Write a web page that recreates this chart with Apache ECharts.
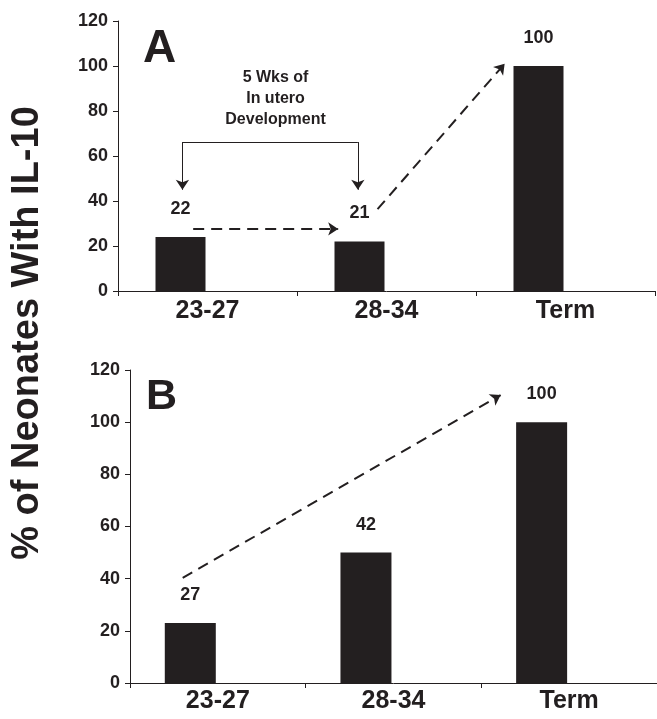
<!DOCTYPE html>
<html>
<head>
<meta charset="utf-8">
<script src="https://cdn.jsdelivr.net/npm/echarts@6/dist/echarts.min.js"></script>
<style>
  html, body { margin: 0; padding: 0; background: #fff; }
  #chart { width: 657px; height: 719px; }
</style>
</head>
<body>
<div id="chart"></div>
<script>
// data
var categories = ['23-27', '28-34', 'Term'];
var barsA = [24, 22, 100];
var labelsA = ['22', '21', '100'];
var barsB = [23, 50, 100];
var labelsB = ['27', '42', '100'];

// annotation arrows, in data space (x: category index, y: percent)
var dashedA = [[[-0.08, 27.6], [0.73, 27.6]], [[0.95, 36.4], [1.66, 101]]];
var bracketA = [[-0.14, 45], [-0.14, 66.2], [0.84, 66.2], [0.84, 45]];
var noteA = { x: 0.38, y: 85.3, text: '5 Wks of\nIn utero\nDevelopment' };
var dashedB = [[[-0.2, 40.3], [1.61, 110.4]]];

var ink = '#231f20';
var font = 'Liberation Sans, Arial, sans-serif';

var myChart = echarts.init(document.getElementById('chart'));

function catAxis(grid, margin) {
    return {
        type: 'category',
        gridIndex: grid,
        data: categories,
        axisLine: { onZero: false, lineStyle: { color: ink, width: 1 } },
        axisTick: { show: true, length: 5, lineStyle: { color: ink } },
        axisLabel: { color: ink, fontSize: 25, fontWeight: 'bold', fontFamily: font, margin: margin }
    };
}

function valAxis(grid) {
    return {
        type: 'value',
        gridIndex: grid,
        min: 0, max: 120, interval: 20,
        axisLine: { show: true, onZero: false, lineStyle: { color: ink, width: 1 } },
        axisTick: { show: true, length: 5, lineStyle: { color: ink } },
        splitLine: { show: false },
        axisLabel: { color: ink, fontSize: 18, fontWeight: 'bold', fontFamily: font, margin: 10 }
    };
}

function overlayAxis(grid) {
    return { type: 'value', gridIndex: grid, min: -0.5, max: 2.5, show: false };
}

function barSeries(grid, values, labels, width) {
    return {
        type: 'bar',
        xAxisIndex: grid, yAxisIndex: grid,
        data: values,
        barWidth: width,
        barGap: '8%',
        itemStyle: { color: ink },
        silent: true,
        label: {
            show: true, position: 'top', distance: 19,
            color: ink, fontSize: 18, fontWeight: 'bold', fontFamily: font,
            formatter: function (p) { return labels[p.dataIndex]; }
        }
    };
}

// empty partner series, so the bars sit left of the category centre
function spacer(grid, width) {
    return {
        type: 'bar', xAxisIndex: grid, yAxisIndex: grid,
        data: ['-', '-', '-'], barWidth: width, barGap: '8%'
    };
}

function arrowLines(grid, dashed, bracket, note) {
    var lines = [];
    dashed.forEach(function (seg) {
        lines.push([{ coord: seg[0], symbol: 'none' },
                    { coord: seg[1], symbol: 'arrow',
                      lineStyle: { type: [11, 7], width: 2, color: ink } }]);
    });
    if (bracket) {
        for (var i = 0; i < bracket.length - 1; i++) {
            var last = i === bracket.length - 2;
            var first = i === 0;
            var a = bracket[i], b = bracket[i + 1];
            if (first) { var t = a; a = b; b = t; }
            lines.push([{ coord: a, symbol: 'none' },
                        { coord: b, symbol: (first || last) ? 'arrow' : 'none',
                          lineStyle: { type: 'solid', width: 1, color: ink } }]);
        }
    }
    var s = {
        type: 'line',
        xAxisIndex: grid + 2, yAxisIndex: grid,
        data: [],
        silent: true,
        markLine: {
            silent: true,
            animation: false,
            symbolSize: 10,
            label: { show: false },
            lineStyle: { color: ink },
            data: lines
        }
    };
    if (note) {
        s.markPoint = {
            silent: true,
            animation: false,
            symbol: 'circle', symbolSize: 0,
            label: {
                show: true, position: 'inside', color: ink,
                fontSize: 16, fontWeight: 'bold', fontFamily: font,
                lineHeight: 21, align: 'center',
                formatter: note.text
            },
            data: [{ coord: [note.x, note.y] }]
        };
    }
    return s;
}

var option = {
    animation: false,
    backgroundColor: '#fff',
    grid: [
        { left: 118, top: 21, width: 537, height: 270 },
        { left: 130, top: 370, width: 530, height: 313 }
    ],
    xAxis: [catAxis(0, 8), catAxis(1, 6), overlayAxis(0), overlayAxis(1)],
    yAxis: [valAxis(0), valAxis(1)],
    graphic: [
        { type: 'text', left: 143, top: 26,
          style: { text: 'A', fill: ink, fontSize: 46, fontWeight: 'bold', fontFamily: font } },
        { type: 'text', left: 146, top: 376,
          style: { text: 'B', fill: ink, fontSize: 43, fontWeight: 'bold', fontFamily: font } },
        { type: 'text', x: 28, y: 333, rotation: Math.PI / 2,
          style: { text: '% of Neonates With IL-10', fill: ink, fontSize: 38, fontWeight: 'bold',
                   fontFamily: font, align: 'center', verticalAlign: 'middle' } }
    ],
    series: [
        barSeries(0, barsA, labelsA, 50),
        spacer(0, 50),
        barSeries(1, barsB, labelsB, 51),
        spacer(1, 51),
        arrowLines(0, dashedA, bracketA, noteA),
        arrowLines(1, dashedB, null, null)
    ]
};

myChart.setOption(option);
</script>
</body>
</html>
